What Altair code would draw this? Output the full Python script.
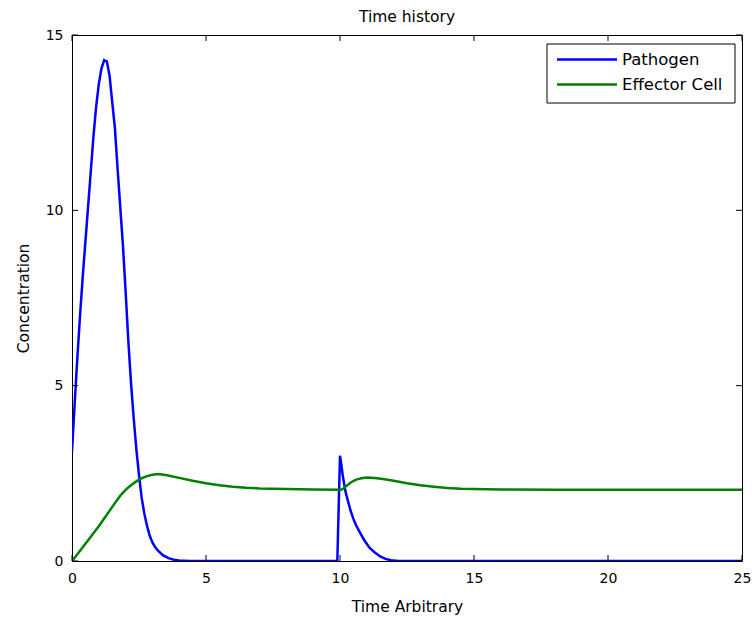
import altair as alt
import pandas as pd

# ---- data ----
series = ["Pathogen", "Effector Cell"]
colors = ["#0000ff", "#008000"]

path_t = [0.0, 0.1, 0.2, 0.3, 0.4, 0.5, 0.6, 0.7, 0.8, 0.9, 1.0, 1.1, 1.2, 1.3, 1.4, 1.5,
          1.6, 1.7, 1.8, 1.9, 2.0, 2.1, 2.2, 2.3, 2.4, 2.5, 2.6, 2.7, 2.8, 2.9, 3.0, 3.1,
          3.2, 3.4, 3.6, 3.8, 4.0, 4.4, 5.0, 9.9, 9.95, 10.0, 10.05, 10.1, 10.2, 10.3, 10.4,
          10.5, 10.6, 10.75, 10.9, 11.1, 11.3, 11.5, 11.7, 11.9, 12.2, 25.0]
path_v = [3.1, 4.5, 5.8, 7.0, 8.1, 9.1, 10.1, 11.1, 12.1, 12.95, 13.6, 14.05, 14.28, 14.25,
          13.85, 13.1, 12.35, 11.2, 10.1, 9.0, 7.7, 6.3, 5.1, 4.1, 3.2, 2.45, 1.8, 1.35, 1.0,
          0.72, 0.53, 0.4, 0.3, 0.16, 0.08, 0.035, 0.015, 0.0, 0.0, 0.0, 1.5, 3.0, 2.75, 2.45,
          2.0, 1.7, 1.42, 1.2, 1.02, 0.8, 0.6, 0.38, 0.24, 0.13, 0.06, 0.02, 0.0, 0.0]

eff_t = [0.0, 0.2, 0.4, 0.6, 0.8, 1.0, 1.2, 1.4, 1.6, 1.8, 2.0, 2.2, 2.4, 2.6, 2.8, 3.0, 3.2,
         3.5, 4.0, 4.5, 5.0, 5.5, 6.0, 6.5, 7.0, 8.0, 9.0, 10.0, 10.1, 10.2, 10.4, 10.6, 10.8,
         11.0, 11.3, 11.6, 12.0, 12.5, 13.0, 13.5, 14.0, 14.5, 15.0, 16.0, 18.0, 25.0]
eff_v = [0.0, 0.19, 0.39, 0.59, 0.79, 0.99, 1.21, 1.43, 1.65, 1.86, 2.03, 2.16, 2.27, 2.36,
         2.42, 2.46, 2.48, 2.45, 2.37, 2.29, 2.22, 2.16, 2.12, 2.09, 2.07, 2.05, 2.04, 2.03,
         2.05, 2.12, 2.24, 2.32, 2.36, 2.38, 2.37, 2.34, 2.29, 2.22, 2.16, 2.12, 2.08, 2.06,
         2.05, 2.04, 2.03, 2.03]

x_ticks = [0, 5, 10, 15, 20, 25]
y_ticks = [0, 5, 10, 15]

df = pd.concat([
    pd.DataFrame({"t": path_t, "v": path_v, "series": series[0]}),
    pd.DataFrame({"t": eff_t, "v": eff_v, "series": series[1]}),
], ignore_index=True)

W, H = 670, 526
FONT = "DejaVu Sans"

x_scale = alt.Scale(domain=[0, 25], nice=False, zero=False)
y_scale = alt.Scale(domain=[0, 15], nice=False, zero=False)
c_scale = alt.Scale(domain=series, range=colors)

x_axis = alt.Axis(values=x_ticks, title="Time Arbitrary", ticks=False, tickSize=0, domain=False,
                  grid=False, labelPadding=10, titlePadding=14, labelFlush=False)
y_axis = alt.Axis(values=y_ticks, title="Concentration", ticks=False, tickSize=0, domain=False,
                  grid=False, labelPadding=9, titlePadding=14, labelFlush=False)

X = lambda f: alt.X(f, scale=x_scale, axis=x_axis)
Y = lambda f: alt.Y(f, scale=y_scale, axis=y_axis)

base = alt.Chart(df)
layers = []
for name in series:
    layers.append(
        base.transform_filter(alt.datum.series == name)
        .mark_line(strokeWidth=2.5, clip=True)
        .encode(
            x=X("t:Q"),
            y=Y("v:Q"),
            color=alt.Color("series:N", scale=c_scale, legend=None),
        )
    )

# inward ticks on all four sides (MATLAB style)
xt = pd.DataFrame({"t": x_ticks})
yt = pd.DataFrame({"v": y_ticks})
tick_len = 6
for y0, y1 in [(H, H - tick_len), (0, tick_len)]:
    layers.append(alt.Chart(xt).mark_rule(color="black", strokeWidth=1).encode(
        x=X("t:Q"), y=alt.value(y0), y2=alt.value(y1)))
for x0, x1 in [(0, tick_len), (W, W - tick_len)]:
    layers.append(alt.Chart(yt).mark_rule(color="black", strokeWidth=1).encode(
        y=Y("v:Q"), x=alt.value(x0), x2=alt.value(x1)))

# legend box (top right, inside the axes)
layers.append(alt.Chart(pd.DataFrame({"a": [0]})).mark_rect(
    fill="white", stroke="black", strokeWidth=1).encode(
    x=alt.value(475), x2=alt.value(663), y=alt.value(9), y2=alt.value(68)))
for i, (name, col) in enumerate(zip(series, colors)):
    ypix = 24.5 + i * 25
    ld = pd.DataFrame({"series": [name]})
    layers.append(alt.Chart(ld).mark_rule(color=col, strokeWidth=2.5).encode(
        x=alt.value(485), x2=alt.value(545), y=alt.value(ypix)))
    layers.append(alt.Chart(ld).mark_text(
        align="left", baseline="middle", font=FONT, fontSize=16.5, color="black").encode(
        x=alt.value(550), y=alt.value(ypix + 0.5), text="series:N"))

chart = alt.layer(*layers).properties(
    width=W, height=H,
    title=alt.TitleParams("Time history", font=FONT, fontSize=15.5, fontWeight="normal",
                          color="black", offset=3),
    autosize=alt.AutoSizeParams(type="none"),
    padding={"left": 72, "top": 35, "right": 10, "bottom": 58},
    background="white",
).configure_view(stroke="black", strokeWidth=1).configure_axis(
    labelFont=FONT, labelFontSize=14, labelColor="black",
    titleFont=FONT, titleFontSize=15.5, titleFontWeight="normal", titleColor="black",
)

chart.save("out.html", embed_options={"renderer": "svg", "actions": False})
